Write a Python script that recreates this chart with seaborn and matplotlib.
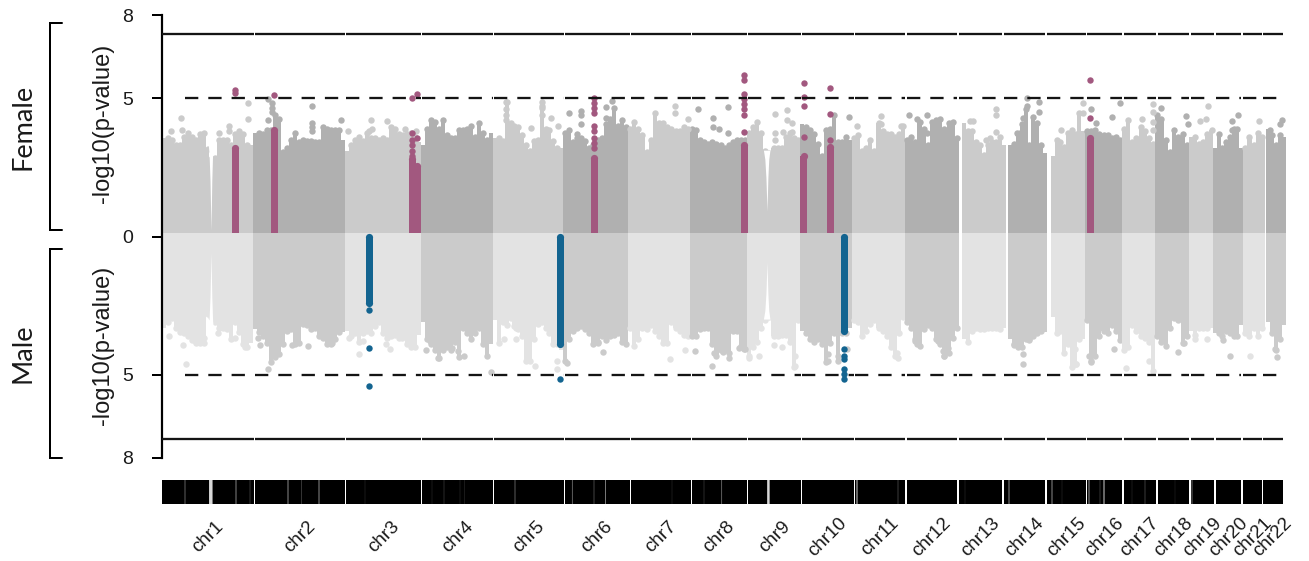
import numpy as np
import matplotlib
matplotlib.use("Agg")
import matplotlib.pyplot as plt
from matplotlib.lines import Line2D
import seaborn as sns

W, H = 1309, 561
sns.set_theme(style="white")
plt.rcParams["font.family"] = ["Liberation Sans", "DejaVu Sans"]
plt.rcParams["lines.scale_dashes"] = False
plt.rcParams["patch.force_edgecolor"] = False

chromosomes = [f"chr{i}" for i in range(1, 23)]
# genome coordinate (plot units) of every chromosome
chr_start = [162, 253, 345, 421, 493, 563, 628, 690, 747, 800, 852, 905, 962, 1008, 1051, 1085, 1122, 1155, 1189, 1213, 1243, 1266]
chr_end = [253, 345, 421, 493, 563, 628, 690, 747, 800, 852, 905, 959, 1005.5, 1047, 1085, 1122, 1155, 1189, 1213, 1243, 1264.5, 1286]
ideo_start = [162, 255, 346, 422, 494, 565, 631, 692, 748, 802, 855, 907, 959, 1004, 1047, 1087, 1124, 1158, 1191, 1216, 1243, 1263]
ideo_end = [254, 345, 421, 493, 564, 630, 691, 747, 801, 854, 905, 957, 1002, 1045, 1086, 1122, 1156, 1189, 1214, 1241, 1262, 1283]

# upper edge of the dense -log10(p) cloud, binned along each chromosome
female_top = [
    [3.55,3.55,3.5,3.3,3.3,3.6,3.55,3.6,3.5,3.7,3.75,3.15,2.8,2.85,3.5,3.5,3.5,3.3,3.7,3.8,3.7,3.3,3.3],
    [3.75,3.75,3.72,3.85,3.85,4.4,4.25,3.05,3.2,3.5,3.75,3.4,3.5,3.45,3.45,3.4,3.4,3.95,3.9,3.85,3.85,3.85,3.5],
    [3.1,3.3,3.5,3.6,3.45,3.75,3.55,3.55,3.5,3.55,3.5,3.95,3.9,3.7,3.65,3.7,3.75,3.6,3.4],
    [3.3,3.9,4.2,4.15,3.9,4.2,3.65,3.55,3.55,3.85,3.85,3.9,4.0,3.6,4.1,3.75,3.5,3.75],
    [3.55,3.55,3.45,4.85,4.1,3.98,3.95,3.65,3.3,3.1,3.45,3.5,4.7,3.9,3.85,3.45,3.2,3.2],
    [3.75,3.85,3.4,3.55,3.55,3.45,3.2,3.3,3.5,3.55,4.05,4.25,4.65,4.0,4.2,3.95],
    [3.9,4.15,3.9,3.65,3.05,3.5,4.45,4.1,3.95,3.95,3.9,3.8,3.8,3.95,3.8],
    [3.9,3.85,3.5,3.4,3.35,3.4,3.35,3.3,3.2,3.3,3.4,3.5,3.5,3.5],
    [3.75,3.95,4.15,3.75,3.1,3.0,3.2,3.2,3.2,3.6,3.75,3.55,3.5],
    [4.05,3.95,3.85,3.7,3.35,2.9,3.85,3.9,4.4,3.4,3.4,3.6,3.5],
    [3.55,3.65,3.1,3.2,3.5,3.1,4.1,3.8,3.7,3.7,3.6,3.7,3.98],
    [3.5,3.6,3.4,4.15,3.9,3.3,4.15,4.2,4.25,3.9,4.1,4.15,3.55],
    [4.1,3.8,3.8,3.4,3.3,2.95,3.3,3.4,3.4,3.6,3.3],
    [3.3,3.35,3.7,4.05,4.6,3.3,4.3,4.1,3.3,3.0],
    [2.9,3.5,3.4,3.25,3.75,3.85,3.7,4.45,3.8],
    [3.8,3.8,3.85,3.7,3.65,3.65,3.55,3.6,3.5],
    [3.9,4.2,3.4,3.55,3.95,3.8,3.55,3.35],
    [4.4,4.25,3.5,3.05,3.85,3.6,3.7,3.3],
    [3.6,3.6,3.35,3.4,3.7,3.85],
    [3.2,3.7,3.2,3.4,3.6,3.9,3.9,3.2],
    [3.2,3.6,3.3,3.75,3.6],
    [3.9,3.65,3.3,3.65,3.6],
]
male_top = [
    [3.3,3.1,2.95,3.3,3.45,3.5,3.6,3.75,3.8,3.85,3.85,2.8,2.9,3.1,3.3,3.3,3.35,3.7,3.1,3.45,3.9,4.0,3.85],
    [3.35,3.45,3.6,3.85,4.55,4.35,4.25,3.9,3.4,3.35,3.9,3.85,3.15,3.2,3.35,3.3,3.6,3.65,3.9,3.9,3.7,3.45,3.45],
    [3.4,3.6,3.5,3.8,3.5,3.4,3.5,3.25,3.1,3.5,3.65,3.6,3.55,3.65,3.6,3.9,4.0,4.0,3.55],
    [3.1,3.7,3.9,4.1,4.4,4.1,4.0,4.1,3.8,4.35,3.3,3.5,3.7,3.5,3.3,3.9,4.3,3.9],
    [3.0,3.85,3.1,3.2,2.95,3.25,3.35,3.6,4.5,4.5,3.7,3.15,3.1,3.3,3.5,3.9,3.9,4.1],
    [4.5,3.7,3.4,3.3,3.25,3.35,3.5,3.9,3.8,3.6,3.75,3.6,3.55,3.5,3.8,3.9],
    [3.3,3.95,3.7,3.3,3.35,3.2,3.4,3.6,3.85,3.85,3.1,3.3,3.4,3.55,3.6],
    [3.6,3.6,3.35,3.3,3.3,3.9,4.3,4.1,4.1,4.2,3.4,3.4,3.95,3.9],
    [4.4,4.0,3.8,3.3,3.0,2.9,3.6,3.6,3.55,3.55,3.8,4.7,3.0],
    [3.4,3.5,3.7,3.8,3.7,3.9,4.55,3.85,3.5,4.5,3.5,3.5,3.3],
    [3.0,3.1,3.6,3.4,3.15,3.0,3.3,3.4,3.6,4.0,4.3,3.5,2.9],
    [3.1,3.3,3.7,3.95,3.35,3.2,3.3,3.7,3.9,4.3,4.2,3.65,3.3],
    [3.7,3.8,3.4,3.3,3.35,3.35,3.3,3.3,3.3,3.35,3.3],
    [3.7,3.9,4.0,4.0,3.7,3.7,3.6,3.5,3.4,3.45],
    [2.9,3.5,3.4,4.2,3.9,4.7,4.6,3.7,3.7],
    [3.0,4.5,4.3,3.6,3.4,3.5,3.2,3.4,3.75],
    [4.1,4.0,3.2,3.4,3.6,3.65,3.8,4.85],
    [3.6,3.8,3.95,3.3,2.95,3.0,3.85,3.6],
    [3.4,3.55,3.3,3.3,3.3,3.3],
    [3.5,3.5,3.6,3.4,3.5,3.6,3.6,3.2],
    [3.5,3.6,3.3,3.6,3.3],
    [3.1,3.5,4.1,3.7,3.2],
]

# isolated grey points above the cloud
female_pos = [181,171,182,188,229,229,219,248,248,268,272,272,272,268,312,312,312,312,341,371,348,369,387,372,405,416,
              506,506,506,506,542,542,542,606,612,606,569,581,581,581,577,551,531,558,675,675,698,728,713,713,719,728,688,688,663,
              775,787,787,792,783,775,792,775,849,857,881,881,901,909,927,917,927,970,973,996,996,996,986,990,1020,
              1027,1027,1039,1039,1023,1017,1061,1083,1083,1091,1096,1120,1112,1142,1153,1153,1153,1153,1161,1186,1188,1200,1206,1208,1212,1238,1232,1232,1259,1282,1280,1270]
female_val = [4.28,3.8,3.84,3.74,3.98,3.8,3.74,4.83,4.23,4.97,4.83,4.65,4.5,4.2,4.73,4.1,3.95,3.8,4.2,4.2,3.8,3.8,4.18,3.9,3.9,3.8,
              4.85,4.6,4.4,4.2,4.85,4.65,4.4,4.68,4.9,4.28,4.47,4.55,4.4,4.07,3.72,4.27,3.91,3.98,4.73,4.47,4.59,4.68,4.28,3.95,3.9,3.74,4.23,3.89,4.1,
              4.44,4.56,4.2,4.1,3.77,3.74,3.77,3.48,4.31,3.98,4.35,4.05,3.98,4.38,4.4,4.23,3.74,4.16,4.16,4.59,4.4,3.77,3.5,3.56,3.74,
              5.0,4.7,4.85,4.5,4.28,3.74,3.83,4.83,4.47,4.62,4.1,4.83,4.31,4.23,4.77,4.5,4.14,3.86,4.65,4.37,4.08,4.16,4.25,4.7,3.84,4.4,4.16,3.84,4.16,4.2,4.05,3.84]
male_pos = [169,183,186,196,204,218,235,245,258,260,268,292,308,332,349,359,363,386,390,402,426,438,430,
            491,464,452,458,504,516,516,535,557,557,567,603,598,670,685,695,714,712,723,729,739,745,
            744,749,759,774,782,795,795,828,828,838,847,897,898,915,917,938,943,944,948,
            1014,1023,1023,1029,1075,1076,1089,1091,1114,1126,1149,1178,1184,1195,1207,1223,1230,1250,1275,1277]
male_val = [3.6,3.93,4.6,3.84,3.66,3.5,3.66,3.98,3.66,3.92,4.8,3.92,3.96,3.84,3.66,4.26,3.78,3.87,4.08,3.66,4.1,4.38,3.78,
            4.88,4.3,4.02,4.14,3.69,3.3,3.72,4.66,4.5,4.8,4.56,4.16,3.84,4.42,4.1,4.14,4.2,4.66,4.16,4.38,4.02,4.08,
            4.08,4.32,4.3,3.93,3.98,4.32,4.68,4.26,4.5,4.32,4.08,4.2,4.38,3.78,3.9,3.78,4.14,4.3,4.04,
            3.93,4.26,4.62,3.75,4.08,4.62,4.32,4.52,4.05,4.74,4.5,4.16,3.86,3.72,3.7,3.75,4.32,4.32,4.08,4.34]

# highlighted loci: dense column plus single points
female_loci = [235.3, 274, 412, 417, 594.3, 744, 803.7, 830.3, 1090.3]
female_loci_top = [3.2, 3.85, 2.8, 2.55, 2.85, 3.3, 2.9, 3.25, 3.55]
female_hit_pos = [235.3,235.3,274,412,417,412,412,412,412,412,417,
                  594.3,594.3,594.3,594.3,594.3,594.3,594.3,594.3,594.3,
                  744,744,744,744,744,744,744,744,
                  803.7,803.7,803.7,803.7,830.3,830.3,830.3,1090.3,1090.3]
female_hit_val = [5.3,5.2,5.1,5.0,5.16,3.74,3.5,3.3,3.08,2.9,3.54,
                  5.0,4.83,4.65,4.47,3.98,3.8,3.56,3.38,3.2,
                  5.85,5.67,5.13,4.95,4.77,4.6,4.4,3.78,
                  5.55,5.04,4.7,3.59,5.37,4.43,3.47,5.65,4.28]
male_loci = [369.3, 560.3, 844.3]
male_loci_top = [2.4, 3.9, 3.4]
male_hit_pos = [369.3,369.3,369.3,560.3,844.3,844.3,844.3,844.3,844.3,844.3]
male_hit_val = [2.65,4.04,5.41,5.16,4.05,4.32,4.44,4.8,4.95,5.16]

# centromere wedges
wedge_pos = [211.5, 767.5]
female_wedge_val = [3.5, 3.1]
male_wedge_val = [3.5, 3.0]
female_wedge_apex = [0.2, 0.9]
male_wedge_apex = [0.6, 0.95]
wedge_width = [6.0, 6.5]
wedge_profile_h = [0.0, 0.55, 0.85, 1.0]
wedge_profile_w = [0.0, 0.3, 0.6, 1.0]

# ideogram light bands
band_pos = [185,210.8,236,250,288,301.7,319,365,432,444,460,464.5,515,572.4,594,605.5,672,704,721.6,768.4,857,898,965,1009,1052,1062,1089,1100,1104,1132,1145,1175,1192]
band_width = [0.8,3.5,1,0.6,1,0.6,1,0.5,0.5,0.6,0.5,0.5,0.9,0.9,0.8,1,0.5,0.6,0.9,2.5,1.2,0.7,0.5,1,1,0.5,1,0.6,1.2,0.5,0.7,0.4,0.9]
band_grey = ["#777777","#d8d8d8","#808080","#555555","#888888","#555555","#888888","#333333","#333333","#444444","#333333","#333333","#666666","#666666","#555555","#777777","#333333","#444444","#666666","#d8d8d8","#aaaaaa","#555555","#333333","#888888","#888888","#333333","#999999","#555555","#aaaaaa","#333333","#555555","#333333","#777777"]

y_ticks = [8, 5, 0, -5, -8]
y_tick_labels = ["8", "5", "0", "5", "8"]
suggestive = 5
genome_wide = 7.3
baseline = 0.13
female_colors = ["#cbcbcb", "#b0b0b0"]
male_colors = ["#e3e3e3", "#cbcbcb"]
purple = "#a2587f"
blue = "#136490"
line_col = "#141414"

px = 1 / 100 * 72  # one pixel, in points


def rect(l, t, r, b):
    return [l / W, 1 - b / H, (r - l) / W, (b - t) / H]


fig = plt.figure(figsize=(W / 100, H / 100), dpi=100, facecolor="white")
ax = fig.add_axes(rect(162, 15, 1286, 458))
dot = (6.4 * px) ** 2
big = (7.2 * px) ** 2

for i in range(22):
    for tops, cols, sign in ((female_top[i], female_colors, 1), (male_top[i], male_colors, -1)):
        col = cols[i % 2]
        edges = np.linspace(chr_start[i], chr_end[i], len(tops) + 1)
        vals = sign * np.array(tops)
        ax.stairs(vals, edges, baseline=baseline, fill=True, color=col, lw=0, zorder=2)
        mid = (edges[:-1] + edges[1:]) / 2
        keep = (mid > chr_start[i] + 2) & (mid < chr_end[i] - 2)
        sns.scatterplot(x=mid[keep], y=vals[keep], color=col, s=dot, linewidth=0,
                        ax=ax, legend=False, zorder=2)

# single grey points, coloured by chromosome
for pos, val, cols, sign in ((female_pos, female_val, female_colors, 1), (male_pos, male_val, male_colors, -1)):
    pos = np.array(pos)
    val = np.array(val)
    idx = np.searchsorted(chr_start, pos, side="right") - 1
    for k in (0, 1):
        m = idx % 2 == k
        sns.scatterplot(x=pos[m], y=sign * val[m], color=cols[k], s=dot, linewidth=0,
                        ax=ax, legend=False, zorder=2)

# centromere wedges
ph = np.array(wedge_profile_h)
pw = np.array(wedge_profile_w)
for c, fv, mv, fa, ma, w in zip(wedge_pos, female_wedge_val, male_wedge_val, female_wedge_apex, male_wedge_apex, wedge_width):
    xs = np.concatenate([c - pw * w * 0.55, (c + pw * w * 0.45)[::-1]])
    ax.fill(xs, np.concatenate([fa + ph * (fv - fa), (fa + ph * (fv - fa))[::-1]]), color="white", lw=0, zorder=3)
    ax.fill(xs, -np.concatenate([ma + ph * (mv - ma), (ma + ph * (mv - ma))[::-1]]), color="white", lw=0, zorder=3)

# highlighted loci
ax.bar(female_loci, np.array(female_loci_top) - baseline, bottom=baseline, width=7, color=purple, lw=0, zorder=4)
sns.scatterplot(x=female_loci, y=female_loci_top, color=purple, s=big, linewidth=0, ax=ax, legend=False, zorder=4)
sns.scatterplot(x=female_hit_pos, y=female_hit_val, color=purple, s=dot, linewidth=0, ax=ax, legend=False, zorder=4)
ax.bar(male_loci, -np.array(male_loci_top), bottom=0, width=7, color=blue, lw=0, zorder=5)
sns.scatterplot(x=male_loci, y=-np.array(male_loci_top), color=blue, s=big, linewidth=0, ax=ax, legend=False, zorder=5)
sns.scatterplot(x=male_loci, y=[0.0] * 3, color=blue, s=big, linewidth=0, ax=ax, legend=False, zorder=5)
sns.scatterplot(x=male_hit_pos, y=-np.array(male_hit_val), color=blue, s=dot, linewidth=0, ax=ax, legend=False, zorder=5)

# threshold lines, restarted on each chromosome
dash_start = list(ideo_start)
dash_start[0] = 185
lw_line = 2.3 * px
for s, ds, e in zip(ideo_start, dash_start, ideo_end):
    for sign in (1, -1):
        ax.plot([s, e], [sign * genome_wide] * 2, color=line_col, lw=lw_line, solid_capstyle="butt", zorder=6)
        ax.plot([ds, e], [sign * suggestive] * 2, color=line_col, lw=lw_line,
                ls=(0, (13.3 * px, 10 * px)), dash_capstyle="butt", zorder=6)

ax.set_xlim(162, 1286)
ax.set_ylim(-8, 8)
ax.set_xticks([])
ax.set_yticks(y_ticks, y_tick_labels)
ax.tick_params(axis="y", length=10 * px, width=2 * px, color="black", pad=19 * px, labelsize=14, labelcolor="#1a1a1a", left=True)
sns.despine(ax=ax, top=True, right=True, bottom=True)
ax.spines["left"].set_linewidth(2.2 * px)
ax.spines["left"].set_color("black")
ax.patch.set_alpha(0)

# ideogram
ax2 = fig.add_axes(rect(162, 480, 1286, 504))
ax2.bar(ideo_start, 1, width=np.array(ideo_end) - np.array(ideo_start), align="edge",
        color="black", edgecolor="none", linewidth=0)
for p, w, g in zip(band_pos, band_width, band_grey):
    ax2.bar(p, 1, width=w, color=g, edgecolor="none", linewidth=0, snap=False)
ax2.set_xlim(162, 1286)
ax2.set_ylim(0, 1)
ax2.set_yticks([])
mids = [(s + e) / 2 for s, e in zip(ideo_start, ideo_end)]
ax2.set_xticks(mids, chromosomes, rotation=45, ha="center", va="center")
ax2.tick_params(axis="x", length=0, pad=33 * px, labelsize=13.5, labelcolor="#1a1a1a")
for sp in ax2.spines.values():
    sp.set_visible(False)
ax2.patch.set_alpha(0)

# panel titles and brackets
fig.text(103 / W, 1 - 123 / H, "-log10(p-value)", rotation=90, ha="center", va="center", fontsize=17, color="#1a1a1a")
fig.text(103 / W, 1 - 345 / H, "-log10(p-value)", rotation=90, ha="center", va="center", fontsize=17, color="#1a1a1a")
fig.text(23 / W, 1 - 127 / H, "Female", rotation=90, ha="center", va="center", fontsize=19.5, color="#1a1a1a", family="Lato")
fig.text(23 / W, 1 - 353 / H, "Male", rotation=90, ha="center", va="center", fontsize=19.5, color="#1a1a1a", family="Lato")
for top, bottom in ((23, 230), (249, 458)):
    fig.add_artist(Line2D([62 / W, 50 / W, 50 / W, 62 / W],
                          [1 - top / H, 1 - top / H, 1 - bottom / H, 1 - bottom / H],
                          color="black", lw=2 * px, solid_joinstyle="miter"))

fig.savefig("out.png", dpi=100, facecolor="white")
